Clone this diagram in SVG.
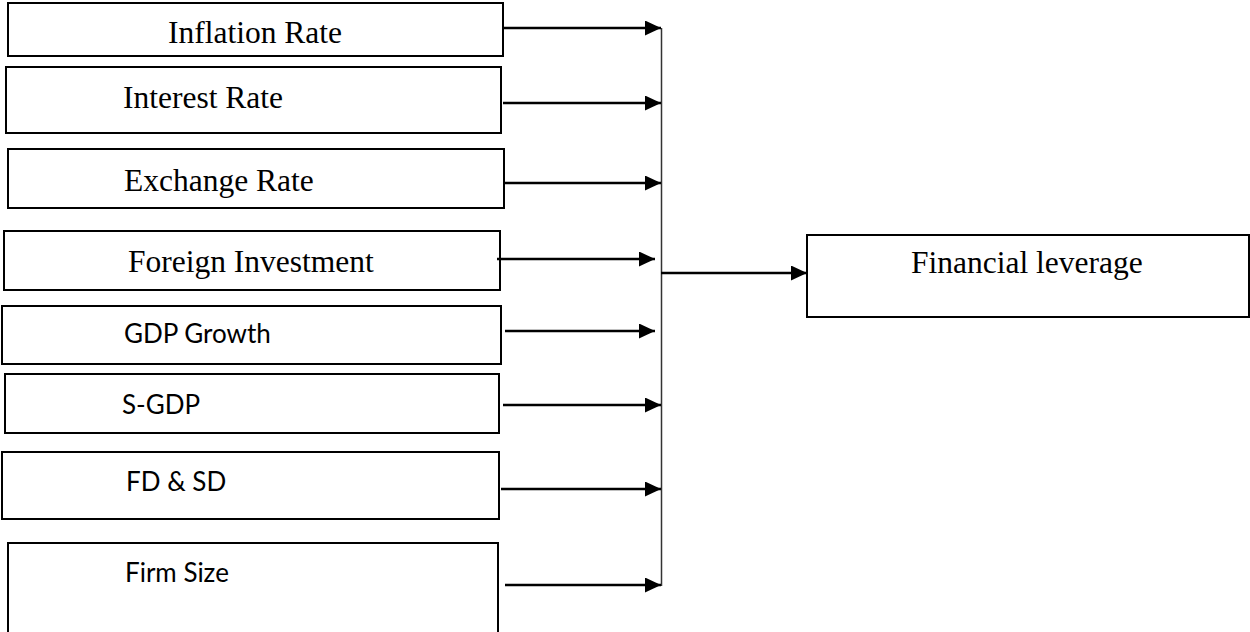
<svg xmlns="http://www.w3.org/2000/svg" width="1250" height="632" viewBox="0 0 1250 632">
<style>
.box{fill:#fff;stroke:#000;stroke-width:2}
.serif{font-family:"Liberation Serif","Times New Roman",serif;font-size:31.5px;fill:#000}
.sans{font-family:Lato,"Open Sans",sans-serif;font-size:26px;fill:#000}
.arr{stroke:#000;stroke-width:2.4;fill:none;marker-end:url(#ah)}
.bus{stroke:#333;stroke-width:1.5;fill:none}
</style>
<defs>
<marker id="ah" viewBox="0 0 16 15" markerWidth="16" markerHeight="15" markerUnits="userSpaceOnUse" refX="16" refY="7.5" orient="auto">
<path d="M0,0 L16,7.5 L0,15 Z" fill="#000"/>
</marker>
</defs>
<rect width="1250" height="632" fill="#fff"/>
<g id="n-inflation"><rect class="box" x="8" y="3" width="495" height="53"/><text class="serif" x="168" y="43">Inflation Rate</text></g>
<g id="n-interest"><rect class="box" x="6" y="67" width="495" height="66"/><text class="serif" x="123" y="108">Interest Rate</text></g>
<g id="n-exchange"><rect class="box" x="8" y="149" width="496" height="59"/><text class="serif" x="124" y="191">Exchange Rate</text></g>
<g id="n-foreign"><rect class="box" x="4" y="231" width="496" height="59"/><text class="serif" x="128" y="272">Foreign Investment</text></g>
<g id="n-gdp"><rect class="box" x="2" y="306" width="499" height="58"/><text class="sans" x="124" y="343">GDP Growth</text></g>
<g id="n-sgdp"><rect class="box" x="5" y="374" width="494" height="59"/><text class="sans" x="122" y="414">S-GDP</text></g>
<g id="n-fdsd"><rect class="box" x="2" y="452" width="497" height="67"/><text class="sans" x="126" y="491">FD &amp; SD</text></g>
<g id="n-firm"><rect class="box" x="8" y="543" width="490" height="100"/><text class="sans" x="125" y="582">Firm Size</text></g>
<g id="n-leverage"><rect class="box" x="807" y="235" width="442" height="82"/><text class="serif" x="911" y="273">Financial leverage</text></g>
<g id="connectors">
<line class="bus" x1="661.5" y1="28" x2="661.5" y2="586"/>
<line class="arr" x1="503" y1="28" x2="661" y2="28"/>
<line class="arr" x1="503" y1="103" x2="661" y2="103"/>
<line class="arr" x1="504" y1="183" x2="661" y2="183"/>
<line class="arr" x1="497" y1="259" x2="655" y2="259"/>
<line class="arr" x1="505" y1="331" x2="655" y2="331"/>
<line class="arr" x1="503" y1="405" x2="661" y2="405"/>
<line class="arr" x1="501" y1="489" x2="661" y2="489"/>
<line class="arr" x1="505" y1="585" x2="661" y2="585"/>
<line class="arr" x1="661" y1="273" x2="807" y2="273"/>
</g>
</svg>
